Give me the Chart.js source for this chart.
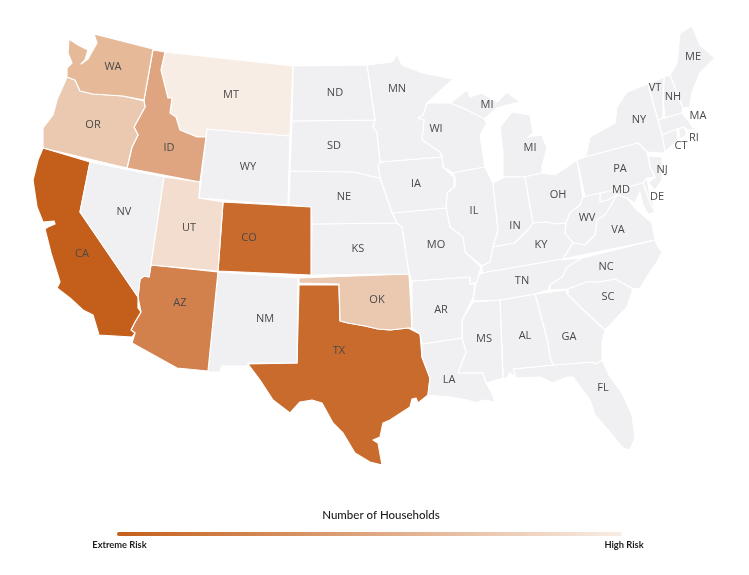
<!DOCTYPE html>
<html>
<head>
<meta charset="utf-8">
<title>Number of Households</title>
<script src="https://cdn.jsdelivr.net/npm/chart.js@4"></script>
<style>
  html, body { margin: 0; padding: 0; background: #fff; }
  #wrap { position: relative; width: 749px; height: 575px; }
</style>
</head>
<body>
<div id="wrap"><canvas id="mapChart"></canvas></div>
<script>
// State outlines, in map units
const WA = [[94,34],[153,49],[144,100],[123,96],[93,94],[80,91],[75,80],[67,77],[67,68],[72,63],[68,53],[69,39],[78,45],[88,50],[85,60],[81,64],[88,59],[97,43]];
const OR = [[67,77],[75,80],[80,91],[93,94],[123,96],[144,101],[145,107],[134,127],[138,135],[132,147],[127,168],[43,148],[43,128],[53,115],[57,100]];
const ID = [[153,50],[165,52],[161,70],[168,98],[172,98],[170,113],[176,117],[180,130],[197,137],[206,137],[200,182],[127,168],[132,147],[138,135],[134,127],[145,107],[144,100]];
const MT = [[165,52],[293,66],[290,136],[207,129],[206,137],[197,137],[180,130],[176,117],[170,113],[172,98],[168,98],[161,70]];
const WY = [[207,129],[290,136],[288,205],[199,198]];
const UT = [[164,177],[200,182],[199,198],[223,202],[218,271],[151,265]];
const NV = [[90,162],[164,177],[151,265],[149,277],[144,276],[140,279],[138,297],[80,212]];
const CA = [[43,148],[90,162],[80,212],[138,297],[138,308],[141,312],[135,322],[131,330],[135,333],[132,337],[99,335],[93,315],[83,310],[70,298],[57,288],[60,282],[51,253],[47,237],[45,229],[48,227],[55,224],[54,221],[43,222],[37,207],[33,180],[38,160]];
const AZ = [[151,265],[218,272],[208,371],[177,368],[132,343],[135,333],[131,330],[135,322],[141,312],[138,297],[140,279],[144,276],[149,277]];
const NM = [[218,272],[298,278],[297,363],[248,363],[248,366],[222,366],[220,372],[208,372]];
const CO = [[223,202],[311,207],[311,275],[218,271]];
const OK = [[299,278],[409,274],[412,328],[408,328],[390,330],[378,329],[365,326],[348,323],[340,321],[339,284],[299,283]];
const TX = [[299,285],[339,285],[340,321],[348,323],[365,326],[378,329],[390,330],[408,328],[420,334],[422,357],[430,378],[428,395],[418,403],[416,398],[412,399],[410,407],[390,420],[383,423],[380,437],[373,440],[378,443],[382,465],[370,462],[355,453],[343,433],[333,423],[322,403],[312,400],[300,402],[290,413],[273,400],[260,380],[248,364],[297,363]];
const ND = [[293,66],[367,65],[375,120],[292,121]];
const SD = [[292,121],[375,120],[373,127],[377,133],[380,163],[378,165],[380,178],[370,176],[355,172],[290,171]];
const NE = [[290,171],[355,172],[370,176],[380,178],[392,213],[397,223],[312,224],[311,207],[289,205]];
const KS = [[312,224],[397,223],[402,227],[409,274],[311,275]];
const MN = [[367,65],[392,62],[397,54],[402,65],[423,73],[453,79],[427,103],[423,115],[418,118],[424,120],[422,140],[440,152],[442,157],[380,162],[377,133],[373,127],[375,120]];
const IA = [[380,162],[442,157],[443,167],[455,178],[454,187],[447,193],[446,208],[392,213],[380,178],[378,165]];
const MO = [[392,213],[446,208],[450,227],[463,237],[465,252],[481,267],[477,282],[470,284],[470,277],[412,281],[409,274],[402,227],[397,223]];
const AR = [[412,281],[470,277],[470,284],[475,284],[473,298],[462,320],[462,338],[422,344],[420,334],[412,328]];
const LA = [[422,344],[462,338],[466,352],[458,373],[483,373],[486,383],[492,393],[495,402],[483,400],[477,403],[467,400],[450,397],[428,395],[430,378],[422,357]];
const MS = [[473,302],[500,300],[503,378],[486,383],[483,373],[458,373],[466,352],[462,338],[462,320]];
const TN = [[473,301],[477,277],[482,273],[557,260],[582,258],[567,267],[562,277],[550,285],[548,290],[535,294],[500,300]];
const AL = [[500,300],[535,294],[548,343],[550,357],[553,365],[513,369],[516,378],[510,373],[507,378],[503,378]];
const GA = [[535,294],[566,290],[568,295],[580,307],[605,330],[602,343],[602,360],[595,364],[593,362],[553,365],[550,357],[548,343]];
const FL = [[513,369],[553,365],[593,362],[595,364],[602,360],[610,377],[622,393],[632,415],[635,438],[630,450],[623,448],[608,430],[595,415],[590,400],[573,377],[567,377],[553,383],[540,377],[516,378]];
const SC = [[568,289],[587,282],[600,282],[615,279],[633,289],[627,307],[610,325],[605,330],[580,307],[568,295]];
const NC = [[655,240],[658,247],[662,252],[657,262],[650,272],[640,288],[633,289],[615,279],[600,282],[587,282],[568,289],[550,290],[550,285],[562,277],[567,267],[582,258]];
const VA = [[563,259],[573,243],[585,245],[595,235],[597,220],[605,215],[617,195],[627,198],[637,210],[652,223],[655,240]];
const KY = [[482,273],[482,266],[490,262],[493,247],[515,243],[520,238],[528,230],[533,223],[547,222],[555,224],[566,223],[565,233],[573,243],[563,259]];
const WV = [[583,197],[600,193],[600,202],[608,200],[617,195],[605,215],[597,220],[595,235],[585,245],[573,243],[565,233],[566,223],[570,213],[580,205]];
const OH = [[525,177],[542,173],[555,175],[577,160],[583,197],[580,205],[570,213],[566,223],[555,224],[547,222],[533,223]];
const IN = [[493,183],[505,177],[525,177],[533,223],[528,230],[520,238],[515,243],[493,247],[498,230]];
const IL = [[453,173],[485,167],[493,183],[498,230],[493,247],[490,262],[482,266],[465,252],[463,237],[450,227],[446,208],[447,193],[454,187],[455,178]];
const WI = [[427,103],[450,103],[467,110],[483,118],[487,123],[480,135],[485,167],[453,173],[443,167],[442,157],[440,152],[422,140],[424,120],[418,118],[423,115]];
const MI_UPPER = [[450,103],[467,90],[470,97],[482,93],[497,102],[507,92],[520,102],[507,105],[497,108],[483,120],[467,110]];
const MI_LOWER = [[503,177],[503,153],[500,127],[512,112],[530,115],[533,133],[528,137],[542,135],[547,148],[542,167],[542,173],[525,177]];
const PA = [[577,160],[585,157],[638,143],[647,152],[650,167],[655,177],[647,178],[643,183],[585,197]];
const NY = [[585,157],[587,152],[590,137],[615,123],[617,107],[627,92],[648,84],[653,103],[658,120],[662,135],[665,152],[663,153],[647,152],[638,143]];
const NJ = [[648,156],[662,157],[662,180],[655,190],[648,183],[655,177],[650,167]];
const MD = [[583,197],[643,183],[651,205],[655,212],[648,214],[643,205],[640,192],[635,203],[627,198],[617,195],[608,200],[600,202],[600,193]];
const DE = [[643,183],[647,178],[650,195],[655,207],[651,205]];
const CT = [[662,135],[677,129],[678,140],[665,152]];
const RI = [[679,129],[684,127],[687,135],[679,139]];
const MA = [[658,120],[665,118],[682,113],[688,120],[693,128],[700,126],[693,130],[687,130],[684,127],[677,129],[662,135]];
const VT = [[648,84],[664,77],[663,100],[663,118],[658,120],[653,103]];
const NH = [[664,77],[670,75],[683,108],[682,113],[665,118],[663,100]];
const ME = [[670,75],[677,63],[680,33],[692,26],[700,45],[715,58],[700,73],[692,92],[690,107],[683,108]];

// Outlines in drawing order, with the household level of each (0 = no risk shown)
const stateOutlines = [WA, OR, ID, MT, WY, UT, NV, CA, AZ, NM, CO, ND, SD, NE, KS, MN, IA, MO, AR, LA, MS, TN, AL, GA, FL, SC, NC, VA, KY, WV, OH, IN, IL, WI, MI_UPPER, MI_LOWER, PA, NY, NJ, MD, DE, CT, RI, MA, VT, NH, ME, OK, TX];
const stateLevels = [5, 6, 4, 8, 0, 7, 0, 1, 3, 0, 2, 0, 0, 0, 0, 0, 0, 0, 0, 0, 0, 0, 0, 0, 0, 0, 0, 0, 0, 0, 0, 0, 0, 0, 0, 0, 0, 0, 0, 0, 0, 0, 0, 0, 0, 0, 0, 6, 2];

// State names and where they sit on the map
const labelNames = ["ME","VT","NH","MA","NY","RI","CT","PA","NJ","MD","DE","OH","WV","VA","IN","KY","NC","TN","SC","MS","AL","GA","FL","LA","AR","MO","IL","IA","KS","NE","SD","ND","MN","WI","MI","MI","MT","WY","ID","OR","WA","NV","UT","CO","CA","AZ","NM","OK","TX"];
const labelX = [693,655,673,698,639,694,681,620,662,621,657,558,587,618,515,541,606,522,608,484,525,569,603,449,441,436,474,416,358,344,334,335,397,436,487,530,231,248,169,93,113,124,189,249,82,180,265,377,339];
const labelY = [57,88,97,116,120,138,146,169,170,190,197,195,218,230,226,245,267,281,297,339,336,337,388,380,310,245,211,184,249,197,146,93,89,129,105,148,95,167,148,125,67,212,228,238,254,303,319,300,351];

// Legend
const legendTitle = "Number of Households";
const legendLow = "Extreme Risk";
const legendHigh = "High Risk";
const legendBar = [[119,534],[620,534]];

const levelColors = ["#f0f0f2", "#c45f1b", "#c96b2d", "#d2814d", "#dfa580", "#e6b999", "#ebc9b1", "#f3ddcf", "#f8ede4"];

// Draws the state abbreviations and legend text through the map scales
const mapTextPlugin = {
  id: "mapText",
  afterDatasetsDraw(chart) {
    const { ctx, scales } = chart;
    ctx.save();
    ctx.textAlign = "center";
    ctx.textBaseline = "middle";
    ctx.fillStyle = "#4a4a4a";
    ctx.font = "11px 'Open Sans'";
    labelNames.forEach((name, i) => {
      ctx.fillText(name, scales.x.getPixelForValue(labelX[i]), scales.y.getPixelForValue(labelY[i]));
    });
    ctx.fillStyle = "#1c1c1c";
    ctx.font = "500 11.5px Lato";
    ctx.fillText(legendTitle, scales.x.getPixelForValue(381), scales.y.getPixelForValue(515));
    ctx.font = "700 9.3px Lato";
    ctx.fillText(legendLow, scales.x.getPixelForValue(119.5), scales.y.getPixelForValue(545));
    ctx.fillText(legendHigh, scales.x.getPixelForValue(624), scales.y.getPixelForValue(545));
    ctx.restore();
  },
};

const stateDatasets = stateOutlines.map((outline, i) => ({
  data: outline.concat([outline[0]]),
  showLine: true,
  fill: "shape",
  tension: 0,
  backgroundColor: levelColors[stateLevels[i]],
  borderColor: "#ffffff",
  borderWidth: 1.2,
  borderJoinStyle: "round",
  pointRadius: 0,
  clip: false,
}));

const legendDataset = {
  data: legendBar,
  showLine: true,
  fill: false,
  pointRadius: 0,
  borderWidth: 4,
  borderCapStyle: "round",
  borderColor: (context) => {
    const { ctx, chartArea, scales } = context.chart;
    // Scales have no pixels until the first layout is done
    if (!chartArea) return levelColors[1];
    const left = scales.x.getPixelForValue(legendBar[0][0]);
    const right = scales.x.getPixelForValue(legendBar[1][0]);
    if (!isFinite(left) || !isFinite(right)) return levelColors[1];
    const gradient = ctx.createLinearGradient(left, 0, right, 0);
    gradient.addColorStop(0, levelColors[1]);
    gradient.addColorStop(1, levelColors[8]);
    return gradient;
  },
};

new Chart(document.getElementById("mapChart"), {
  type: "scatter",
  data: { datasets: stateDatasets.concat([legendDataset]) },
  options: {
    responsive: true,
    maintainAspectRatio: false,
    animation: false,
    layout: { padding: 0 },
    plugins: {
      legend: { display: false },
      title: { display: false },
      tooltip: { enabled: false },
    },
    scales: {
      x: { type: "linear", min: 0, max: 749, display: false },
      y: { type: "linear", min: 0, max: 575, reverse: true, display: false },
    },
  },
  plugins: [mapTextPlugin],
});
</script>
</body>
</html>
